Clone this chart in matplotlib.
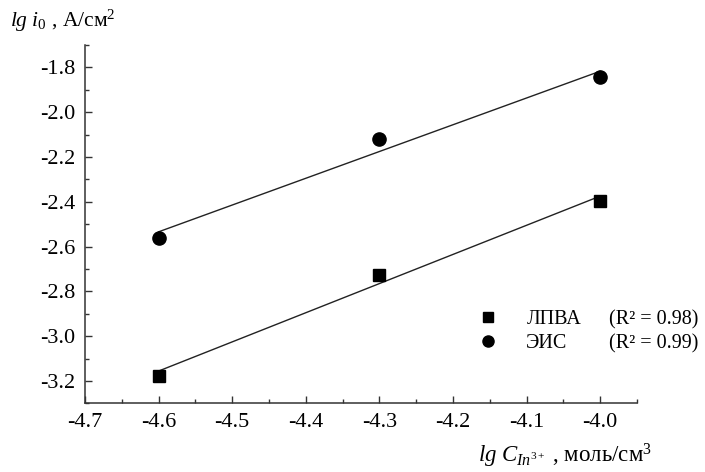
import numpy as np
import matplotlib
matplotlib.use("Agg")
import matplotlib.pyplot as plt
from matplotlib.lines import Line2D

plt.rcParams['font.family'] = 'serif'
plt.rcParams['font.serif'] = ['Liberation Serif', 'DejaVu Serif']
plt.rcParams['mathtext.fontset'] = 'custom'
plt.rcParams['mathtext.rm'] = 'Liberation Serif'
plt.rcParams['mathtext.it'] = 'Liberation Serif:italic'
plt.rcParams['axes.unicode_minus'] = False

# lg of concentration and lg of exchange current density
lg_c = [-4.6, -4.3, -4.0]
lg_i0_lpva = [-3.176, -2.725, -2.395]
lg_i0_eis = [-2.562, -2.120, -1.845]
r2_lpva = 0.98
r2_eis = 0.99
series_names = ['ЛПВА', 'ЭИС']
x_ticks = [-4.7, -4.6, -4.5, -4.4, -4.3, -4.2, -4.1, -4.0]
y_ticks = [-3.2, -3.0, -2.8, -2.6, -2.4, -2.2, -2.0, -1.8]

fig = plt.figure(figsize=(7.05, 4.72), dpi=100)
ax = fig.add_axes([0.1206, 0.1455, 0.7829, 0.7592])

x = np.array(lg_c)
for yvals, marker, ms in [(lg_i0_lpva, 's', 8.5), (lg_i0_eis, 'o', 9.5)]:
    k, b = np.polyfit(x, np.array(yvals), 1)
    xx = np.array([x.min(), x.max()])
    ax.plot(xx, k * xx + b, color='#222222', lw=1.0, zorder=2)
    ax.plot(x, yvals, linestyle='none', marker=marker, ms=ms,
            color='black', zorder=3)

ax.set_xlim(-4.7, -3.95)
ax.set_ylim(-3.3, -1.7)
ax.set_xticks(x_ticks)
ax.set_yticks(y_ticks)
ax.set_xticklabels([f'{v:.1f}' for v in x_ticks])
ax.set_yticklabels([f'{v:.1f}' for v in y_ticks])
ax.set_xticks(np.arange(-4.65, -3.94, 0.1), minor=True)
ax.set_yticks(np.arange(-3.3, -1.69, 0.2), minor=True)

for s in ['top', 'right']:
    ax.spines[s].set_visible(False)
for s in ['left', 'bottom']:
    ax.spines[s].set_linewidth(1.1)
    ax.spines[s].set_color('#333333')
ax.tick_params(which='both', direction='in', color='#333333', width=1.0,
               labelsize=16, pad=7)
ax.tick_params(which='major', length=5)
ax.tick_params(which='minor', length=3)

# legend: markers with names, and the R² values in a second column
h_sq = Line2D([], [], ls='none', marker='s', ms=7.5, color='black')
h_ci = Line2D([], [], ls='none', marker='o', ms=8, color='black')
h_none = Line2D([], [], ls='none')
ax.legend([h_sq, h_ci, h_none, h_none],
          [series_names[0], series_names[1],
           f'(R² = {r2_lpva:.2f})', f'(R² = {r2_eis:.2f})'],
          ncol=2, frameon=False, fontsize=14.5, handlelength=1.0,
          handletextpad=1.4, columnspacing=-1.0, labelspacing=0.25,
          loc='upper left', bbox_to_anchor=(478 / 705, 1 - 310 / 472),
          bbox_transform=fig.transFigure, borderaxespad=0, borderpad=0)

fig.text(10 / 705, 1 - 27 / 472, r'$\mathit{lg}\ \mathit{i}_{\mathit{0}}$ , А/см$^2$',
         fontsize=15.5, ha='left', va='baseline')
fig.text(478 / 705, 9 / 472,
         r'$\mathit{lg}\ \mathit{C}_{\mathit{In}^{3+}}$ , моль/см$^3$',
         fontsize=16.5, ha='left', va='baseline')

fig.savefig('out.png', dpi=100)
